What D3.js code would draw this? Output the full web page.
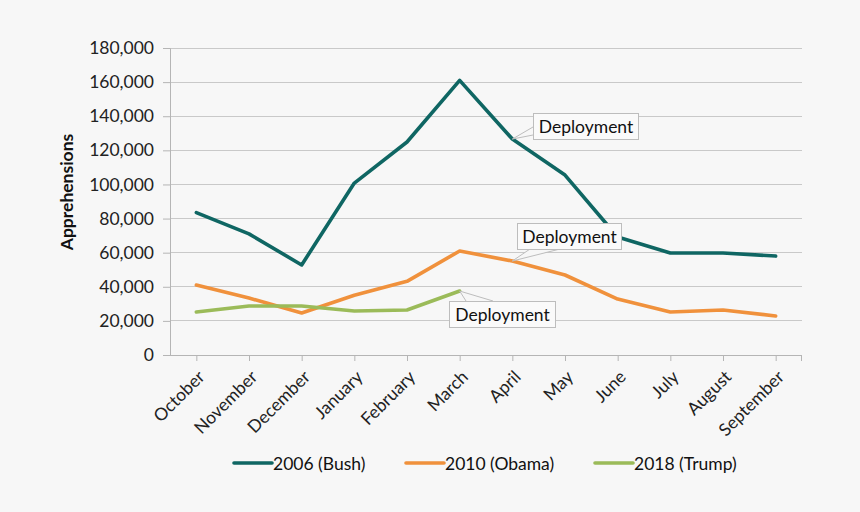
<!DOCTYPE html>
<html><head><meta charset="utf-8">
<script src="https://cdn.jsdelivr.net/npm/d3@7"></script>
<style>
body{margin:0;background:#f7f7f7;}
svg{display:block;font-family:Lato, "Open Sans", sans-serif;}
</style></head>
<body>
<svg id="c" width="860" height="512"></svg>
<script>
const months = ["October","November","December","January","February","March","April","May","June","July","August","September"];
const bush = [83500,71000,52800,100800,124900,161000,126600,105500,69200,59800,59800,58000];
const obama = [41000,33400,24600,35000,43200,61000,55100,46900,32800,25200,26400,22900];
const trump = [25200,28700,28700,25800,26400,37500];
const yTicks = [0,20000,40000,60000,80000,100000,120000,140000,160000,180000];
const seriesNames = ["2006 (Bush)","2010 (Obama)","2018 (Trump)"];
const colors = ["#0f6663","#f0913c","#9bbb59"];
const callouts = [
  {series:0, idx:6, label:"Deployment"},
  {series:1, idx:6, label:"Deployment"},
  {series:2, idx:5, label:"Deployment"}
];

const FS = 17.5;
const svg = d3.select("#c");
svg.append("rect").attr("width",860).attr("height",512).attr("fill","#f7f7f7");
const L=170,R=802,T=48,B=355;
const x = d3.scalePoint().domain(months).range([L,R]).padding(0.5);
const y = d3.scaleLinear().domain([0,180000]).range([B,T]);
const data=[bush,obama,trump];

// gridlines
svg.append("g").selectAll("line").data(yTicks.slice(1)).join("line")
  .attr("x1",L).attr("x2",R).attr("y1",d=>y(d)).attr("y2",d=>y(d))
  .attr("stroke","#c9c9c9").attr("stroke-width",1).attr("shape-rendering","crispEdges");

// y axis
const ya = svg.append("g").attr("transform",`translate(${L},0)`)
  .call(d3.axisLeft(y).tickValues(yTicks).tickSize(7).tickPadding(9).tickFormat(d3.format(",")));
ya.select(".domain").attr("stroke","#b5b5b5");
ya.selectAll(".tick line").attr("stroke","#b5b5b5");
ya.selectAll("text").attr("font-size",FS).attr("fill","#222").attr("font-family","Lato");

// x axis
const xa = svg.append("g").attr("transform",`translate(0,${B})`)
  .call(d3.axisBottom(x).tickSize(6).tickSizeOuter(0).tickPadding(4));
xa.select(".domain").attr("stroke","#b5b5b5").attr("d",`M${L},0.5H${R}`);
xa.selectAll(".tick line").attr("stroke","#b5b5b5");
xa.append("line").attr("x1",R-0.5).attr("x2",R-0.5).attr("y1",0).attr("y2",6).attr("stroke","#b5b5b5");
xa.selectAll(".tick text").attr("font-size",FS).attr("fill","#222").attr("font-family","Lato")
  .attr("y",0).attr("dy",0)
  .attr("text-anchor","end").attr("transform","translate(9,23) rotate(-45)");

// y title
svg.append("text").attr("transform","translate(73,192) rotate(-90)").attr("text-anchor","middle")
  .attr("font-size",FS).attr("font-weight","bold").attr("fill","#111").text("Apprehensions");

// lines
const line = d3.line().x((d,i)=>x(months[i])).y(d=>y(d));
data.forEach((s,k)=>{
  svg.append("path").datum(s).attr("d",line).attr("fill","none")
    .attr("stroke",colors[k]).attr("stroke-width",3.6).attr("stroke-linejoin","round").attr("stroke-linecap","round");
});

// callouts
const boxes = [
  {bx:533,by:113,bw:105,bh:26, p:[[533,127],[533,135]]},
  {bx:517,by:223,bw:104,bh:26, p:[[530,249],[560,249]]},
  {bx:449,by:301,bw:106,bh:26, p:[[466,301],[493,301]]}
];
callouts.forEach((c,i)=>{
  const px=x(months[c.idx]), py=y(data[c.series][c.idx]);
  const b=boxes[i];
  svg.append("path").attr("d",`M${b.p[0][0]},${b.p[0][1]}L${px},${py}L${b.p[1][0]},${b.p[1][1]}`)
    .attr("fill","#f7f7f7").attr("stroke","#bdbdbd").attr("stroke-width",1);
  svg.append("rect").attr("x",b.bx+0.5).attr("y",b.by+0.5).attr("width",b.bw).attr("height",b.bh)
    .attr("fill","#fafafa").attr("stroke","#bdbdbd").attr("stroke-width",1);
  svg.append("text").attr("x",b.bx+b.bw/2+0.5).attr("y",b.by+b.bh/2+6.5).attr("text-anchor","middle")
    .attr("font-size",FS).attr("fill","#111").text(c.label);
});

// legend
const legX=[234,406,595];
seriesNames.forEach((n,i)=>{
  svg.append("line").attr("x1",legX[i]).attr("x2",legX[i]+38).attr("y1",463).attr("y2",463)
    .attr("stroke",colors[i]).attr("stroke-width",3.6).attr("stroke-linecap","round");
  svg.append("text").attr("x",legX[i]+39).attr("y",469.5).attr("font-size",FS).attr("fill","#111").text(n);
});
</script>
</body></html>
